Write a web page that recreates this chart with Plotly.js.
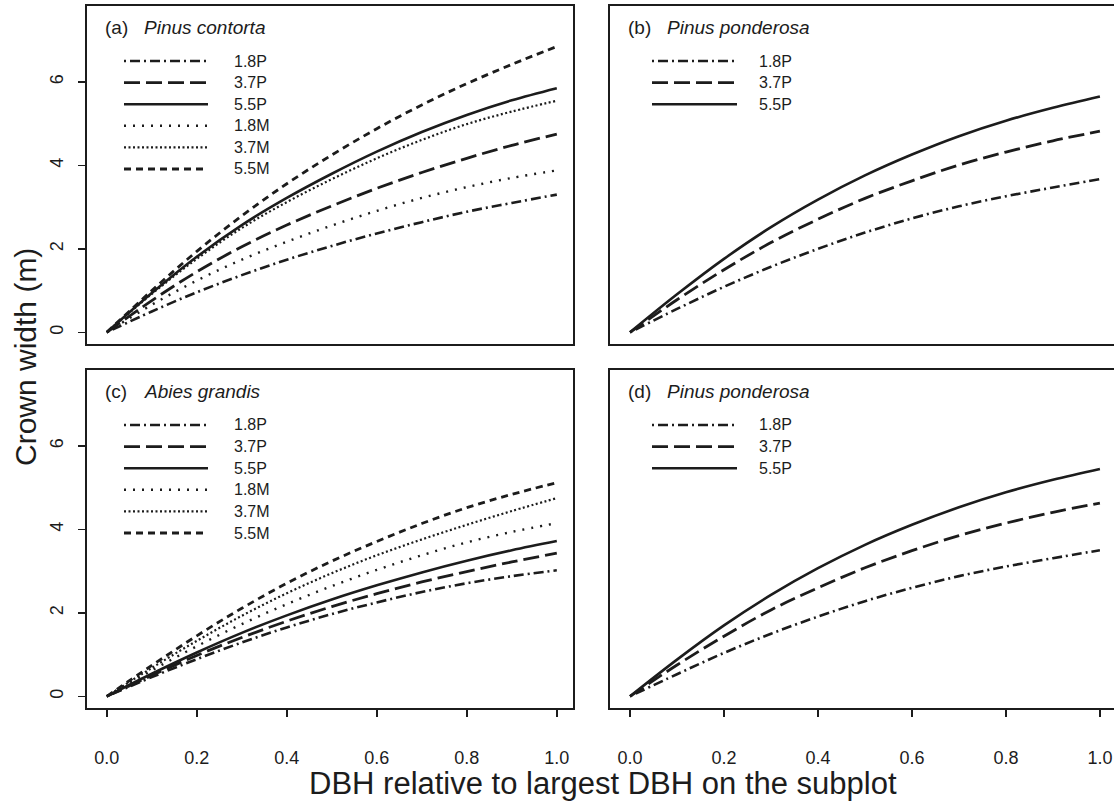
<!DOCTYPE html>
<html>
<head>
<meta charset="utf-8">
<script src="https://cdn.plot.ly/plotly-3.0.1.min.js"></script>
<style>html,body{margin:0;padding:0;background:#fff;}#chart{width:1114px;height:804px;}</style>
</head>
<body>
<div id="chart"></div>
<script>
// ---------- data ----------
const dbhRel = [0, 0.1, 0.2, 0.3, 0.4, 0.5, 0.6, 0.7, 0.8, 0.9, 1.0];
const seriesNames = ["1.8P", "3.7P", "5.5P", "1.8M", "3.7M", "5.5M"];

// (a) Pinus contorta
const a_18P = [0, 0.50, 0.96, 1.37, 1.74, 2.07, 2.37, 2.64, 2.89, 3.10, 3.30];
const a_37P = [0, 0.76, 1.45, 2.05, 2.57, 3.03, 3.45, 3.83, 4.17, 4.48, 4.75];
const a_55P = [0, 0.94, 1.81, 2.57, 3.22, 3.80, 4.33, 4.80, 5.21, 5.56, 5.85];
const a_18M = [0, 0.66, 1.24, 1.74, 2.17, 2.56, 2.91, 3.22, 3.48, 3.70, 3.88];
const a_37M = [0, 0.92, 1.76, 2.50, 3.12, 3.67, 4.17, 4.61, 4.99, 5.29, 5.55];
const a_55M = [0, 1.00, 1.94, 2.79, 3.56, 4.25, 4.88, 5.45, 5.96, 6.42, 6.85];

// (b) Pinus ponderosa
const b_18P = [0, 0.56, 1.09, 1.57, 2.00, 2.39, 2.73, 3.02, 3.26, 3.47, 3.67];
const b_37P = [0, 0.78, 1.50, 2.15, 2.71, 3.21, 3.63, 4.01, 4.32, 4.59, 4.82];
const b_55P = [0, 0.91, 1.76, 2.52, 3.18, 3.76, 4.26, 4.70, 5.07, 5.38, 5.65];

// (c) Abies grandis
const c_18P = [0, 0.46, 0.89, 1.29, 1.65, 1.97, 2.25, 2.50, 2.71, 2.88, 3.02];
const c_37P = [0, 0.50, 0.98, 1.41, 1.80, 2.15, 2.46, 2.74, 2.99, 3.22, 3.43];
const c_55P = [0, 0.54, 1.05, 1.52, 1.94, 2.32, 2.66, 2.97, 3.25, 3.50, 3.72];
const c_18M = [0, 0.62, 1.20, 1.73, 2.21, 2.64, 3.03, 3.38, 3.69, 3.94, 4.15];
const c_37M = [0, 0.68, 1.33, 1.93, 2.47, 2.95, 3.38, 3.76, 4.11, 4.44, 4.75];
const c_55M = [0, 0.74, 1.45, 2.11, 2.71, 3.24, 3.71, 4.14, 4.52, 4.84, 5.12];

// (d) Pinus ponderosa
const d_18P = [0, 0.53, 1.04, 1.50, 1.91, 2.28, 2.60, 2.88, 3.11, 3.31, 3.50];
const d_37P = [0, 0.75, 1.44, 2.07, 2.60, 3.08, 3.49, 3.85, 4.15, 4.41, 4.63];
const d_55P = [0, 0.88, 1.70, 2.43, 3.07, 3.63, 4.11, 4.53, 4.89, 5.19, 5.45];

const panelLetters = ["(a)", "(b)", "(c)", "(d)"];
const panelSpecies = ["Pinus contorta", "Pinus ponderosa", "Abies grandis", "Pinus ponderosa"];
const xTickVals = [0, 0.2, 0.4, 0.6, 0.8, 1.0];
const xTickText = ["0.0", "0.2", "0.4", "0.6", "0.8", "1.0"];
const yTickVals = [0, 2, 4, 6];
const yTickText = ["0", "2", "4", "6"];
const xTitle = "DBH relative to largest DBH on the subplot";
const yTitle = "Crown width (m)";

// ---------- styles ----------
const INK = "#1c1c1c";
const FONT = "Liberation Sans, Arial, Helvetica, sans-serif";
const styles = {
  "1.8P": {dash: "2px,4px,10px,4px", width: 2.6},
  "3.7P": {dash: "16px,6px", width: 2.8},
  "5.5P": {dash: "solid", width: 2.6},
  "1.8M": {dash: "2px,7px", width: 2.4},
  "3.7M": {dash: "2px,2.5px", width: 2.2},
  "5.5M": {dash: "7px,5px", width: 2.8}
};

const W = 1114, H = 804;
const px = v => v / W;
const py = v => 1 - v / H;

const panels = [
  {ax: "", data: [a_18P, a_37P, a_55P, a_18M, a_37M, a_55M]},
  {ax: "2", data: [b_18P, b_37P, b_55P]},
  {ax: "3", data: [c_18P, c_37P, c_55P, c_18M, c_37M, c_55M]},
  {ax: "4", data: [d_18P, d_37P, d_55P]}
];

const traces = [];
panels.forEach(p => {
  p.data.forEach((ys, i) => {
    const st = styles[seriesNames[i]];
    traces.push({
      x: dbhRel, y: ys, type: "scatter", mode: "lines",
      xaxis: "x" + p.ax, yaxis: "y" + p.ax,
      name: seriesNames[i], showlegend: false, hoverinfo: "skip",
      line: {color: INK, width: st.width, dash: st.dash, shape: "spline", smoothing: 1}
    });
  });
});

// geometry (pixels)
const leftX = [87, 573], rightX = [610, 1114];
const topY = [6, 344], botY = [370, 708];
const yRange = [-0.28, 7.82];

function xaxisDef(dom, range, showTicks) {
  return {
    domain: [px(dom[0]), px(dom[1])], range: range,
    showgrid: false, zeroline: false, showline: true, mirror: true,
    linecolor: INK, linewidth: 2,
    ticks: showTicks ? "outside" : "", ticklen: 7, tickwidth: 1.6, tickcolor: INK,
    tickvals: xTickVals, ticktext: xTickText, showticklabels: showTicks,
    ticklabelstandoff: 25,
    tickfont: {family: FONT, size: 18, color: INK}, fixedrange: true
  };
}
function yaxisDef(dom, showTicks, mirror, anchor) {
  return {
    domain: [py(dom[1]), py(dom[0])], range: yRange, anchor: anchor,
    showgrid: false, zeroline: false, showline: true, mirror: mirror,
    linecolor: INK, linewidth: 2,
    ticks: showTicks ? "outside" : "", ticklen: 7, tickwidth: 1.6, tickcolor: INK,
    tickvals: yTickVals, ticktext: yTickText, showticklabels: showTicks,
    tickangle: -90, ticklabelstandoff: 8,
    tickfont: {family: FONT, size: 18, color: INK}, fixedrange: true
  };
}

const layout = {
  width: W, height: H,
  margin: {l: 0, r: 0, t: 0, b: 0, pad: 0},
  paper_bgcolor: "#fff", plot_bgcolor: "#fff",
  showlegend: false,
  xaxis:  Object.assign(xaxisDef(leftX, [-0.044, 1.036], false), {anchor: "y"}),
  xaxis2: Object.assign(xaxisDef(rightX, [-0.0426, 1.030], false), {anchor: "y2"}),
  xaxis3: Object.assign(xaxisDef(leftX, [-0.044, 1.036], true), {anchor: "y3"}),
  xaxis4: Object.assign(xaxisDef(rightX, [-0.0426, 1.030], true), {anchor: "y4"}),
  yaxis:  yaxisDef(topY, true, true, "x"),
  yaxis2: yaxisDef(topY, false, false, "x2"),
  yaxis3: yaxisDef(botY, true, true, "x3"),
  yaxis4: yaxisDef(botY, false, false, "x4"),
  shapes: [], annotations: []
};

// panel titles and in-panel legends
const panelGeom = [
  {left: 87,  top: 6,   lineX: [124, 208], labX: 232, n: 6},
  {left: 610, top: 6,   lineX: [652, 737], labX: 757, n: 3},
  {left: 87,  top: 370, lineX: [124, 208], labX: 232, n: 6},
  {left: 610, top: 370, lineX: [652, 737], labX: 757, n: 3}
];
panelGeom.forEach((g, k) => {
  const ty = g.top + 21;
  layout.annotations.push({
    xref: "paper", yref: "paper", x: px(g.left + 16), y: py(ty),
    xanchor: "left", yanchor: "middle", showarrow: false,
    text: panelLetters[k], font: {family: FONT, size: 19, color: INK}
  });
  layout.annotations.push({
    xref: "paper", yref: "paper", x: px(g.left + 55), y: py(ty),
    xanchor: "left", yanchor: "middle", showarrow: false,
    text: "<i>" + panelSpecies[k] + "</i>", font: {family: FONT, size: 19, color: INK}
  });
  for (let i = 0; i < g.n; i++) {
    const ry = g.top + 55 + i * 21.6;
    const st = styles[seriesNames[i]];
    layout.shapes.push({
      type: "line", xref: "paper", yref: "paper",
      x0: px(g.lineX[0]), x1: px(g.lineX[1]), y0: py(ry), y1: py(ry),
      line: {color: INK, width: st.width, dash: st.dash}
    });
    layout.annotations.push({
      xref: "paper", yref: "paper", x: px(g.labX), y: py(ry),
      xanchor: "left", yanchor: "middle", showarrow: false,
      text: seriesNames[i], font: {family: FONT, size: 16, color: INK}
    });
  }
});

// shared axis titles
layout.annotations.push({
  xref: "paper", yref: "paper", x: px(603), y: py(783),
  xanchor: "center", yanchor: "middle", showarrow: false,
  text: xTitle, font: {family: FONT, size: 31, color: INK}
});
layout.annotations.push({
  xref: "paper", yref: "paper", x: px(25), y: py(357),
  xanchor: "center", yanchor: "middle", showarrow: false, textangle: -90,
  text: yTitle, font: {family: FONT, size: 30, color: INK}
});

Plotly.newPlot("chart", traces, layout, {staticPlot: true, displayModeBar: false});
</script>
</body>
</html>
